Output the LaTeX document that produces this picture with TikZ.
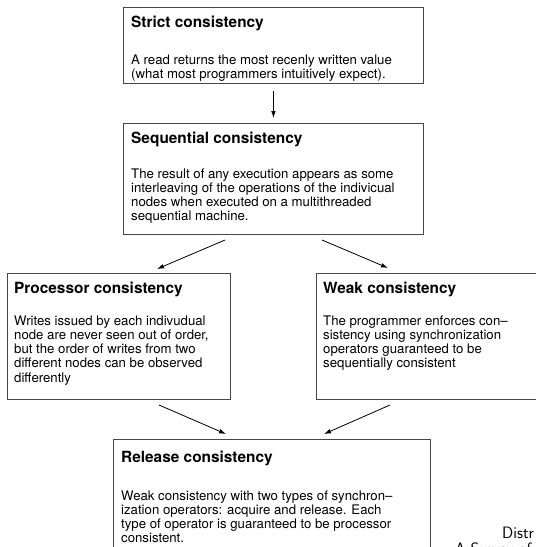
\documentclass[tikz,border=0pt]{standalone}
\usepackage{fontspec}
\setmainfont{TeX Gyre Heros}
\usetikzlibrary{arrows.meta}
\newcommand\tline[1]{\hbox{#1}}
\tikzset{
  box/.style={draw=black!72, line width=0.9pt, rectangle, anchor=north west, inner sep=0pt},
  ttl/.style={anchor=base west, inner sep=0pt, font=\fontsize{15.4}{16}\selectfont\bfseries},
  body/.style={anchor=base west, inner sep=0pt, font=\fontsize{13.2}{14.2}\selectfont},
  arr/.style={line width=0.8pt, -{Latex[length=7pt,width=4.6pt]}},
  foot/.style={anchor=base west, inner sep=0pt, font=\fontsize{16.5}{18}\selectfont\sffamily}
}
\newcommand\bodytext[1]{\vtop{\baselineskip=14.3pt\lineskiplimit=-5pt #1}}
\begin{document}
\begin{tikzpicture}[x=1pt,y=-1pt]
\useasboundingbox (0,0) rectangle (536,547);
\clip (0,0) rectangle (536,547);
% boxes
\node[box, minimum width=300pt, minimum height=76pt] (strict) at (123,7) {};
\node[box, minimum width=300pt, minimum height=111pt] (seq) at (123,123) {};
\node[box, minimum width=223pt, minimum height=126pt] (proc) at (7,273) {};
\node[box, minimum width=230pt, minimum height=126pt] (weak) at (316,273) {};
\node[box, minimum width=317pt, minimum height=130pt] (rel) at (113,439) {};
% texts
\node[ttl] (strictT) at (131,27) {Strict consistency};
\node[body] (strictB) at (131,64) {\bodytext{\tline{A read returns the most recenly written value}\tline{(what most programmers intuitively expect).}}};
\node[ttl] (seqT) at (131,143) {Sequential consistency};
\node[body] (seqB) at (131,178) {\bodytext{\tline{The result of any execution appears as some}\tline{interleaving of the operations of the indivicual}\tline{nodes when executed on a multithreaded}\tline{sequential machine.}}};
\node[ttl] (procT) at (14,293) {Processor consistency};
\node[body] (procB) at (14,325) {\bodytext{\tline{Writes issued by each indivudual}\tline{node are never seen out of order,}\tline{but the order of writes from two}\tline{different nodes can be observed}\tline{differently}}};
\node[ttl] (weakT) at (323,293) {Weak consistency};
\node[body] (weakB) at (323,325) {\bodytext{\tline{The programmer enforces con--}\tline{sistency using synchronization}\tline{operators guaranteed to be}\tline{sequentially consistent}}};
\node[ttl] (relT) at (121,462) {Release consistency};
\node[body] (relB) at (121,500) {\bodytext{\tline{Weak consistency with two types of synchron--}\tline{ization operators: acquire and release. Each}\tline{type of operator is guaranteed to be processor}\tline{consistent.}}};
% footer fragments
\node[foot] (foot1) at (502,538) {Distr};
\node[foot] (foot2) at (455,554) {A Survey of};
% connectors
\coordinate (s1) at (225,240);
\coordinate (e1) at (157,269);
\coordinate (s2) at (322,240);
\coordinate (e2) at (388,268);
\coordinate (s3) at (159,405);
\coordinate (e3) at (226,434);
\coordinate (s4) at (390,405);
\coordinate (e4) at (324,434);
\draw[arr, shorten <=7pt, shorten >=5pt] (strict.south) -- (seq.north);
\draw[arr] (s1) -- (e1);
\draw[arr] (s2) -- (e2);
\draw[arr] (s3) -- (e3);
\draw[arr] (s4) -- (e4);
\end{tikzpicture}
\end{document}
